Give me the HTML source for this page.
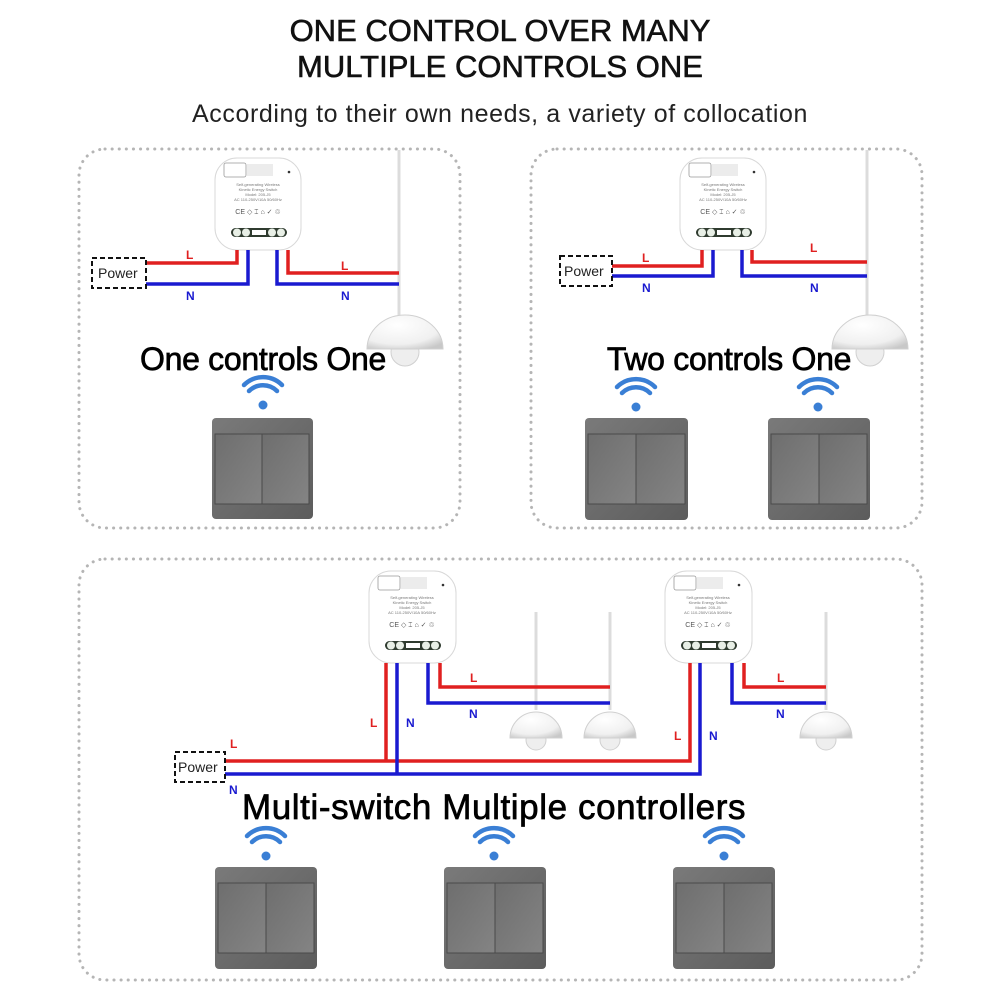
<!DOCTYPE html>
<html><head><meta charset="utf-8"><style>
html,body{margin:0;padding:0;background:#fff}
svg{display:block}
text{font-family:"Liberation Sans",sans-serif}
</style></head><body>
<svg width="1000" height="1000" viewBox="0 0 1000 1000" xmlns="http://www.w3.org/2000/svg">
<defs>
<linearGradient id="sw" x1="0" y1="0" x2="1" y2="1"><stop offset="0" stop-color="#7a7a7a"/><stop offset="1" stop-color="#5c5c5c"/></linearGradient>
<linearGradient id="key" x1="0" y1="0" x2="1" y2="1"><stop offset="0" stop-color="#6e6e6e"/><stop offset="1" stop-color="#848484"/></linearGradient>
<radialGradient id="dome" cx="0.4" cy="0.3" r="0.8"><stop offset="0" stop-color="#ffffff"/><stop offset="0.7" stop-color="#f0f0f0"/><stop offset="1" stop-color="#c8c8c8"/></radialGradient>
</defs>
<g fill="#111" stroke="#111" stroke-width="0.6">
<text x="500" y="41" text-anchor="middle" font-size="31">ONE CONTROL OVER MANY</text>
<text x="500" y="77" text-anchor="middle" font-size="31">MULTIPLE CONTROLS ONE</text>
</g>
<text x="500" y="122" text-anchor="middle" font-size="25" letter-spacing="0.6" fill="#222">According to their own needs, a variety of collocation</text>

<g fill="none" stroke="#b5b5b5" stroke-width="3" stroke-dasharray="0.1 7" stroke-linecap="round">
<rect x="79" y="149" width="381" height="379" rx="26"/>
<rect x="531" y="149" width="391" height="379" rx="26"/>
<rect x="79" y="559" width="843" height="421" rx="26"/>
</g>

<!-- modules -->
<g transform="translate(215,158)">
<rect x="0" y="0" width="86" height="92" rx="22" fill="#fff" stroke="#d8d8d8"/>
<rect x="9" y="5" width="22" height="14" rx="2" fill="#fff" stroke="#999" stroke-width="0.8"/>
<rect x="32" y="6" width="26" height="12" fill="#ececec"/>
<circle cx="74" cy="14" r="1.3" fill="#333"/>
<text x="43" y="28" font-size="4" text-anchor="middle" fill="#777">Self-generating Wireless</text>
<text x="43" y="33" font-size="4" text-anchor="middle" fill="#777">Kinetic Energy Switch</text>
<text x="43" y="38" font-size="4" text-anchor="middle" fill="#777">Model: 205-J5</text>
<text x="43" y="43" font-size="4" text-anchor="middle" fill="#777">AC 110-250V/10A 50/60Hz</text>
<text x="43" y="56" font-size="7" text-anchor="middle" fill="#555">CE ◇ ⌶ ⌂ ✓ ♲</text>
<rect x="16" y="70" width="56" height="9" rx="4.5" fill="#2f3b2f"/>
<circle cx="22" cy="74.5" r="4" fill="#e8efe6"/><circle cx="31" cy="74.5" r="4" fill="#e8efe6"/>
<circle cx="57" cy="74.5" r="4" fill="#e8efe6"/><circle cx="66" cy="74.5" r="4" fill="#e8efe6"/>
<rect x="37" y="72" width="14" height="5" fill="#fff"/>
</g>
<g transform="translate(680,158)">
<rect x="0" y="0" width="86" height="92" rx="22" fill="#fff" stroke="#d8d8d8"/>
<rect x="9" y="5" width="22" height="14" rx="2" fill="#fff" stroke="#999" stroke-width="0.8"/>
<rect x="32" y="6" width="26" height="12" fill="#ececec"/>
<circle cx="74" cy="14" r="1.3" fill="#333"/>
<text x="43" y="28" font-size="4" text-anchor="middle" fill="#777">Self-generating Wireless</text>
<text x="43" y="33" font-size="4" text-anchor="middle" fill="#777">Kinetic Energy Switch</text>
<text x="43" y="38" font-size="4" text-anchor="middle" fill="#777">Model: 205-J5</text>
<text x="43" y="43" font-size="4" text-anchor="middle" fill="#777">AC 110-250V/10A 50/60Hz</text>
<text x="43" y="56" font-size="7" text-anchor="middle" fill="#555">CE ◇ ⌶ ⌂ ✓ ♲</text>
<rect x="16" y="70" width="56" height="9" rx="4.5" fill="#2f3b2f"/>
<circle cx="22" cy="74.5" r="4" fill="#e8efe6"/><circle cx="31" cy="74.5" r="4" fill="#e8efe6"/>
<circle cx="57" cy="74.5" r="4" fill="#e8efe6"/><circle cx="66" cy="74.5" r="4" fill="#e8efe6"/>
<rect x="37" y="72" width="14" height="5" fill="#fff"/>
</g>
<g transform="translate(369,571)">
<rect x="0" y="0" width="87" height="92" rx="22" fill="#fff" stroke="#d8d8d8"/>
<rect x="9" y="5" width="22" height="14" rx="2" fill="#fff" stroke="#999" stroke-width="0.8"/>
<rect x="32" y="6" width="26" height="12" fill="#ececec"/>
<circle cx="74" cy="14" r="1.3" fill="#333"/>
<text x="43" y="28" font-size="4" text-anchor="middle" fill="#777">Self-generating Wireless</text>
<text x="43" y="33" font-size="4" text-anchor="middle" fill="#777">Kinetic Energy Switch</text>
<text x="43" y="38" font-size="4" text-anchor="middle" fill="#777">Model: 205-J5</text>
<text x="43" y="43" font-size="4" text-anchor="middle" fill="#777">AC 110-250V/10A 50/60Hz</text>
<text x="43" y="56" font-size="7" text-anchor="middle" fill="#555">CE ◇ ⌶ ⌂ ✓ ♲</text>
<rect x="16" y="70" width="56" height="9" rx="4.5" fill="#2f3b2f"/>
<circle cx="22" cy="74.5" r="4" fill="#e8efe6"/><circle cx="31" cy="74.5" r="4" fill="#e8efe6"/>
<circle cx="57" cy="74.5" r="4" fill="#e8efe6"/><circle cx="66" cy="74.5" r="4" fill="#e8efe6"/>
<rect x="37" y="72" width="14" height="5" fill="#fff"/>
</g>
<g transform="translate(665,571)">
<rect x="0" y="0" width="87" height="92" rx="22" fill="#fff" stroke="#d8d8d8"/>
<rect x="9" y="5" width="22" height="14" rx="2" fill="#fff" stroke="#999" stroke-width="0.8"/>
<rect x="32" y="6" width="26" height="12" fill="#ececec"/>
<circle cx="74" cy="14" r="1.3" fill="#333"/>
<text x="43" y="28" font-size="4" text-anchor="middle" fill="#777">Self-generating Wireless</text>
<text x="43" y="33" font-size="4" text-anchor="middle" fill="#777">Kinetic Energy Switch</text>
<text x="43" y="38" font-size="4" text-anchor="middle" fill="#777">Model: 205-J5</text>
<text x="43" y="43" font-size="4" text-anchor="middle" fill="#777">AC 110-250V/10A 50/60Hz</text>
<text x="43" y="56" font-size="7" text-anchor="middle" fill="#555">CE ◇ ⌶ ⌂ ✓ ♲</text>
<rect x="16" y="70" width="56" height="9" rx="4.5" fill="#2f3b2f"/>
<circle cx="22" cy="74.5" r="4" fill="#e8efe6"/><circle cx="31" cy="74.5" r="4" fill="#e8efe6"/>
<circle cx="57" cy="74.5" r="4" fill="#e8efe6"/><circle cx="66" cy="74.5" r="4" fill="#e8efe6"/>
<rect x="37" y="72" width="14" height="5" fill="#fff"/>
</g>

<!-- lamp cords -->
<g stroke="#dcdcdc" stroke-width="3">
<line x1="399" y1="150" x2="399" y2="318"/>
<line x1="867" y1="150" x2="867" y2="318"/>
<line x1="536" y1="612" x2="536" y2="710"/>
<line x1="610" y1="612" x2="610" y2="710"/>
<line x1="826" y1="612" x2="826" y2="710"/>
</g>

<!-- wires -->
<g fill="none" stroke-width="3.5">
<polyline stroke="#e02020" points="146,263 237,263 237,250"/>
<polyline stroke="#1a1ad0" points="146,284 248,284 248,250"/>
<polyline stroke="#1a1ad0" points="277,250 277,284 399,284"/>
<polyline stroke="#e02020" points="288,250 288,273 399,273"/>

<polyline stroke="#e02020" points="612,266 702,266 702,250"/>
<polyline stroke="#1a1ad0" points="612,276 713,276 713,250"/>
<polyline stroke="#1a1ad0" points="742,250 742,276 867,276"/>
<polyline stroke="#e02020" points="752,250 752,262 867,262"/>

<polyline stroke="#e02020" points="225,761 690,761 690,663"/>
<polyline stroke="#1a1ad0" points="225,774 700,774 700,663"/>
<line stroke="#e02020" x1="386" y1="663" x2="386" y2="761"/>
<line stroke="#1a1ad0" x1="397" y1="663" x2="397" y2="774"/>
<polyline stroke="#1a1ad0" points="428,663 428,703 610,703"/>
<polyline stroke="#e02020" points="440,663 440,687 610,687"/>
<polyline stroke="#1a1ad0" points="732,663 732,703 826,703"/>
<polyline stroke="#e02020" points="744,663 744,687 826,687"/>
</g>

<!-- power boxes -->
<g fill="#fff" stroke="#111" stroke-width="2" stroke-dasharray="5 3">
<rect x="92" y="258" width="54" height="30"/>
<rect x="560" y="256" width="52" height="30"/>
<rect x="175" y="752" width="50" height="30"/>
</g>
<g font-size="14" fill="#222">
<text x="98" y="278">Power</text>
<text x="564" y="276">Power</text>
<text x="178" y="772">Power</text>
</g>

<g font-size="12" font-weight="bold">
<text x="186" y="259" fill="#e02020">L</text>
<text x="186" y="300" fill="#1a1ad0">N</text>
<text x="341" y="270" fill="#e02020">L</text>
<text x="341" y="300" fill="#1a1ad0">N</text>
<text x="642" y="262" fill="#e02020">L</text>
<text x="642" y="292" fill="#1a1ad0">N</text>
<text x="810" y="252" fill="#e02020">L</text>
<text x="810" y="292" fill="#1a1ad0">N</text>
<text x="230" y="748" fill="#e02020">L</text>
<text x="229" y="794" fill="#1a1ad0">N</text>
<text x="370" y="727" fill="#e02020">L</text>
<text x="406" y="727" fill="#1a1ad0">N</text>
<text x="470" y="682" fill="#e02020">L</text>
<text x="469" y="718" fill="#1a1ad0">N</text>
<text x="674" y="740" fill="#e02020">L</text>
<text x="709" y="740" fill="#1a1ad0">N</text>
<text x="777" y="682" fill="#e02020">L</text>
<text x="776" y="718" fill="#1a1ad0">N</text>
</g>

<!-- lamps -->
<g stroke="#d0d0d0" stroke-width="1">
<circle cx="405" cy="352" r="14" fill="#eee"/>
<path d="M367,349 A38,34 0 0 1 443,349 Z" fill="url(#dome)"/>
<circle cx="870" cy="352" r="14" fill="#eee"/>
<path d="M832,349 A38,34 0 0 1 908,349 Z" fill="url(#dome)"/>
<circle cx="536" cy="740" r="10" fill="#eee"/>
<path d="M510,738 A26,26 0 0 1 562,738 Z" fill="url(#dome)"/>
<circle cx="610" cy="740" r="10" fill="#eee"/>
<path d="M584,738 A26,26 0 0 1 636,738 Z" fill="url(#dome)"/>
<circle cx="826" cy="740" r="10" fill="#eee"/>
<path d="M800,738 A26,26 0 0 1 852,738 Z" fill="url(#dome)"/>
</g>

<g fill="#000" stroke="#000" stroke-width="0.7" text-anchor="middle">
<text x="263" y="370" font-size="32" letter-spacing="-0.3">One controls One</text>
<text x="729" y="370" font-size="32" letter-spacing="-0.3">Two controls One</text>
<text x="494" y="819" font-size="35" letter-spacing="0.6">Multi-switch Multiple controllers</text>
</g>

<!-- wifi icons -->
<g fill="none" stroke="#3a7fd5" stroke-width="4.5" stroke-linecap="round">
<path d="M249,391 a20,20 0 0 1 28,0 M244,385 a27,27 0 0 1 38,0"/>
<path d="M622,393 a20,20 0 0 1 28,0 M617,387 a27,27 0 0 1 38,0"/>
<path d="M804,393 a20,20 0 0 1 28,0 M799,387 a27,27 0 0 1 38,0"/>
<path d="M252,842 a20,20 0 0 1 28,0 M247,836 a27,27 0 0 1 38,0"/>
<path d="M480,842 a20,20 0 0 1 28,0 M475,836 a27,27 0 0 1 38,0"/>
<path d="M710,842 a20,20 0 0 1 28,0 M705,836 a27,27 0 0 1 38,0"/>
</g>
<g fill="#3a7fd5">
<circle cx="263" cy="405" r="4.5"/><circle cx="636" cy="407" r="4.5"/><circle cx="818" cy="407" r="4.5"/>
<circle cx="266" cy="856" r="4.5"/><circle cx="494" cy="856" r="4.5"/><circle cx="724" cy="856" r="4.5"/>
</g>

<!-- switches -->
<g>
<rect x="212" y="418" width="101" height="101" rx="4" fill="url(#sw)"/>
<rect x="215" y="434" width="47" height="70" fill="url(#key)" stroke="#4a4a4a"/>
<rect x="262" y="434" width="47" height="70" fill="url(#key)" stroke="#4a4a4a"/>
<rect x="585" y="418" width="103" height="102" rx="4" fill="url(#sw)"/>
<rect x="588" y="434" width="48" height="70" fill="url(#key)" stroke="#4a4a4a"/>
<rect x="636" y="434" width="49" height="70" fill="url(#key)" stroke="#4a4a4a"/>
<rect x="768" y="418" width="102" height="102" rx="4" fill="url(#sw)"/>
<rect x="771" y="434" width="48" height="70" fill="url(#key)" stroke="#4a4a4a"/>
<rect x="819" y="434" width="48" height="70" fill="url(#key)" stroke="#4a4a4a"/>
<rect x="215" y="867" width="102" height="102" rx="4" fill="url(#sw)"/>
<rect x="218" y="883" width="48" height="70" fill="url(#key)" stroke="#4a4a4a"/>
<rect x="266" y="883" width="48" height="70" fill="url(#key)" stroke="#4a4a4a"/>
<rect x="444" y="867" width="102" height="102" rx="4" fill="url(#sw)"/>
<rect x="447" y="883" width="48" height="70" fill="url(#key)" stroke="#4a4a4a"/>
<rect x="495" y="883" width="48" height="70" fill="url(#key)" stroke="#4a4a4a"/>
<rect x="673" y="867" width="102" height="102" rx="4" fill="url(#sw)"/>
<rect x="676" y="883" width="48" height="70" fill="url(#key)" stroke="#4a4a4a"/>
<rect x="724" y="883" width="48" height="70" fill="url(#key)" stroke="#4a4a4a"/>
</g>
</svg>
</body></html>
